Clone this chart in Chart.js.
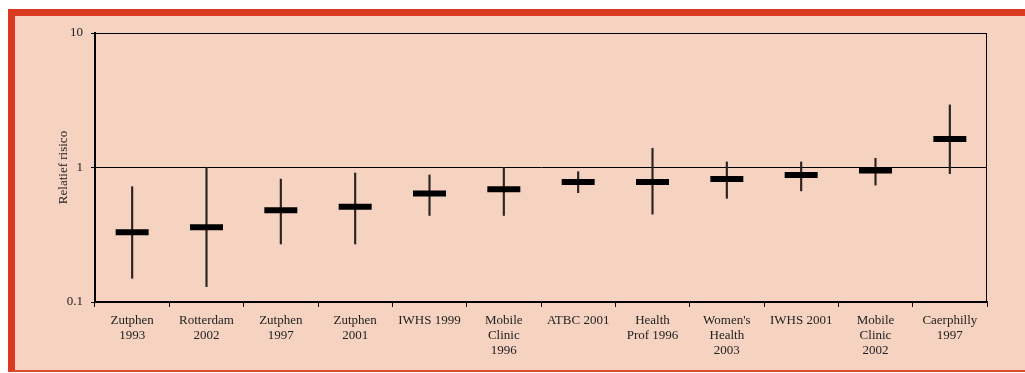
<!DOCTYPE html>
<html>
<head>
<meta charset="utf-8">
<script src="https://cdn.jsdelivr.net/npm/chart.js@4.4.0/dist/chart.umd.min.js"></script>
<style>
  body { margin: 0; background: #fff; }
  #frame {
    position: absolute; left: 8px; top: 9px; width: 1017px; height: 363px;
    box-sizing: border-box; background: #f6d2c0;
    border-left: 7px solid #d93a20; border-top: 7px solid #d93a20;
    border-bottom: 2px solid #de4a2e;
  }
  #wrap { position: absolute; left: 0; top: 0; width: 1025px; height: 373px; }
</style>
</head>
<body>
<div id="frame"></div>
<div id="wrap"><canvas id="riskChart" width="1025" height="373"></canvas></div>
<script>
const studies = [
  ['Zutphen', '1993'],
  ['Rotterdam', '2002'],
  ['Zutphen', '1997'],
  ['Zutphen', '2001'],
  'IWHS 1999',
  ['Mobile', 'Clinic', '1996'],
  'ATBC 2001',
  ['Health', 'Prof 1996'],
  ["Women's", 'Health', '2003'],
  'IWHS 2001',
  ['Mobile', 'Clinic', '2002'],
  ['Caerphilly', '1997']
];
const estimate = [0.33, 0.36, 0.48, 0.51, 0.64, 0.69, 0.78, 0.78, 0.82, 0.88, 0.95, 1.63];
const lower    = [0.15, 0.13, 0.27, 0.27, 0.44, 0.44, 0.65, 0.45, 0.59, 0.67, 0.74, 0.90];
const upper    = [0.72, 1.00, 0.82, 0.91, 0.88, 1.00, 0.93, 1.39, 1.10, 1.10, 1.17, 2.92];
const yTicks = [0.1, 1, 10];

const serif = '"Liberation Serif", "DejaVu Serif", serif';

// top and right edge of the plot box
const boxPlugin = {
  id: 'box',
  afterDraw(chart) {
    const a = chart.chartArea, ctx = chart.ctx;
    ctx.save();
    ctx.strokeStyle = '#000';
    ctx.lineWidth = 1;
    ctx.beginPath();
    ctx.moveTo(a.left, a.top + 0.5);
    ctx.lineTo(a.right - 0.5, a.top + 0.5);
    ctx.lineTo(a.right - 0.5, a.bottom);
    ctx.stroke();
    ctx.restore();
  }
};

let ctx = document.getElementById('riskChart').getContext('2d');

let riskChart = new Chart(ctx, {
  type: 'bar',
  data: {
    labels: studies,
    datasets: [
      {
        type: 'line',
        label: 'Relatief risico',
        data: estimate,
        showLine: false,
        pointStyle: 'line',
        pointRadius: 16.5,
        pointHoverRadius: 16.5,
        pointBorderWidth: 6,
        pointHoverBorderWidth: 6,
        pointBorderColor: '#000',
        order: 0
      },
      {
        label: 'BI',
        data: lower.map((l, i) => [l, upper[i]]),
        backgroundColor: '#2a2322',
        barThickness: 1.5,
        order: 1
      }
    ]
  },
  options: {
    responsive: false,
    animation: false,
    layout: { padding: { top: 33, right: 38, left: 0, bottom: 0 } },
    plugins: { legend: { display: false }, tooltip: { enabled: false } },
    scales: {
      x: {
        offset: true,
        grid: { offset: true, drawOnChartArea: false, color: '#000', tickLength: 5, lineWidth: 1 },
        border: { color: '#000', width: 1.5 },
        ticks: {
          color: '#222', padding: 6, maxRotation: 0, autoSkip: false,
          font: { family: serif, size: 13, lineHeight: 1.15 }
        },
        afterFit(scale) { scale.height = 71; }
      },
      y: {
        type: 'logarithmic',
        min: 0.1,
        max: 10,
        afterBuildTicks(scale) { scale.ticks = yTicks.map(v => ({ value: v })); },
        grid: { color: '#000', lineWidth: 1, tickLength: 4 },
        border: { color: '#000', width: 2 },
        ticks: {
          color: '#222', padding: 8,
          font: { family: serif, size: 13 },
          callback: v => String(v)
        },
        title: {
          display: true, text: 'Relatief risico', color: '#222',
          font: { family: serif, size: 13 }, padding: { top: 56, bottom: 0 }
        },
        afterFit(scale) { scale.width = 95; }
      }
    }
  },
  plugins: [boxPlugin]
});
</script>
</body>
</html>
